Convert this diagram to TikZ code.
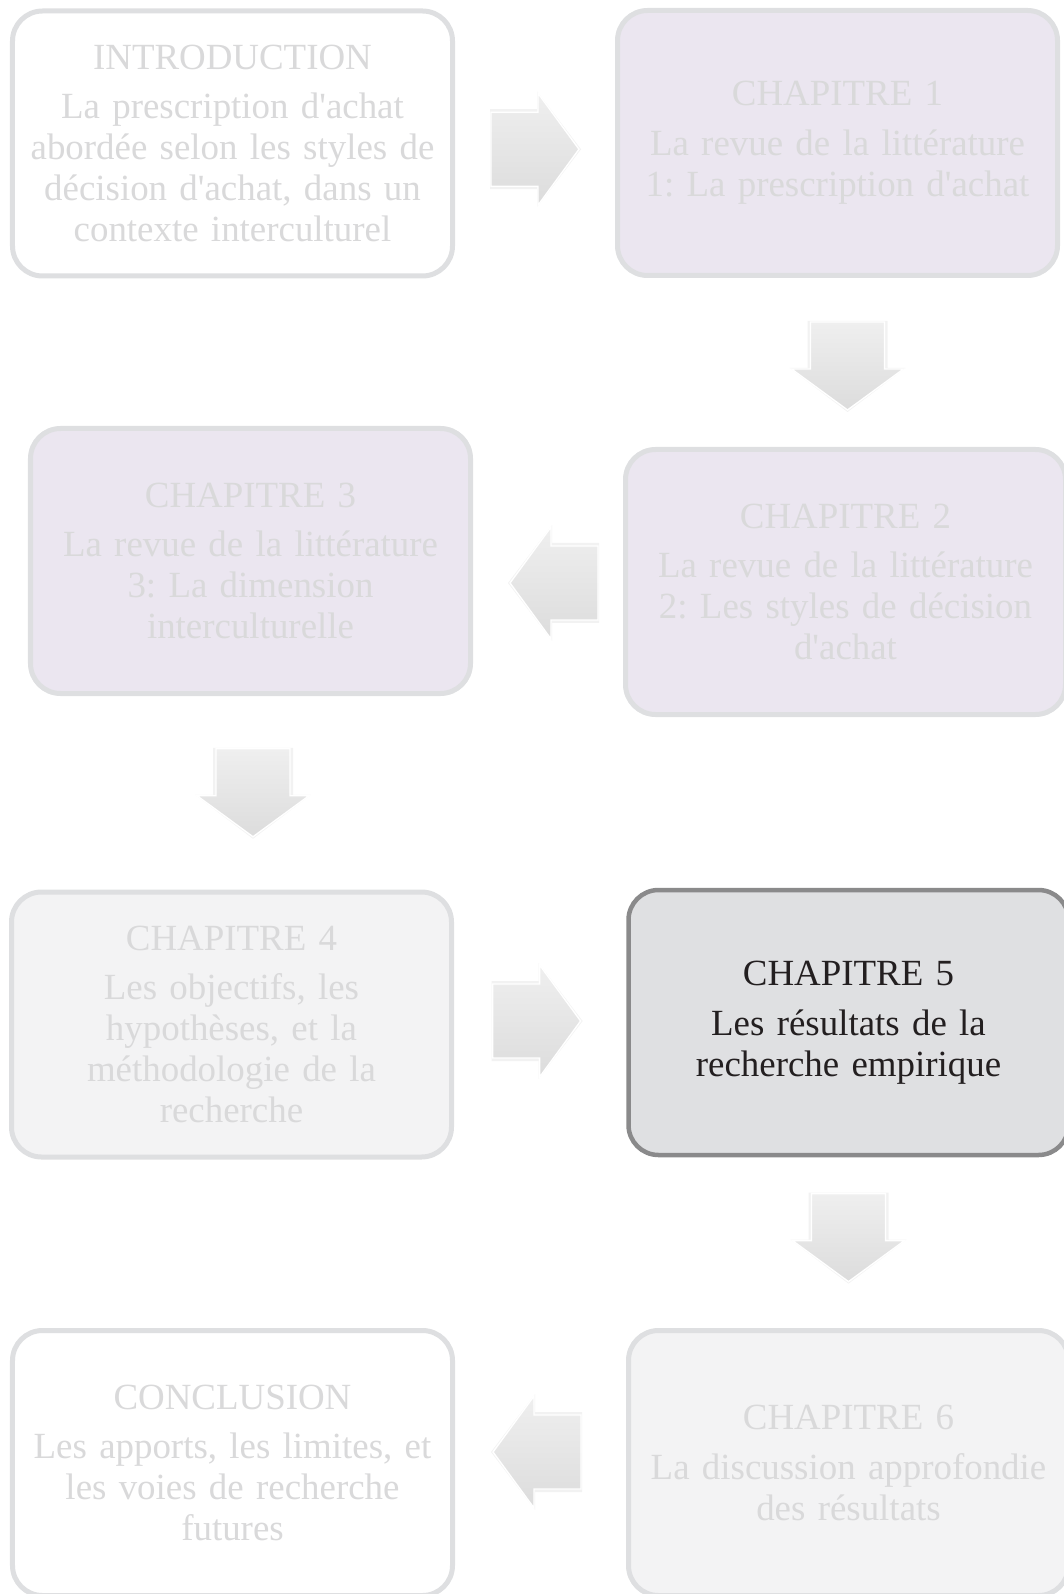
\documentclass[tikz,border=0pt]{standalone}
\usepackage{fontspec}
\setmainfont{Liberation Serif}[Ligatures=TeXOff]
\usetikzlibrary{calc,positioning}
\frenchspacing

\definecolor{edgegrey}{HTML}{DEDFE1}
\definecolor{fadedtext}{HTML}{D9D9DA}
\definecolor{lavender}{HTML}{EBE6F0}
\definecolor{palegrey}{HTML}{F3F3F4}
\definecolor{activefill}{HTML}{DFE0E2}
\definecolor{activeedge}{HTML}{8A8A8B}
\definecolor{activetext}{HTML}{231F20}
\definecolor{arrowtop}{HTML}{EFEFEF}
\definecolor{arrowbottom}{HTML}{DCDCDC}

\tikzset{
  chapbox/.style={draw=edgegrey, line width=0.1cm, rounded corners=0.6cm,
    minimum width=8.8cm, minimum height=5.3cm, text width=8.5cm, align=center,
    inner sep=0pt, text=fadedtext, font=\fontsize{21}{23.3}\selectfont},
  activebox/.style={chapbox, draw=activeedge, fill=activefill, text=activetext, line width=0.09cm},
  pics/blockarrow/.style={code={
    \fill[black, opacity=0.05] (-0.90,0.80) -- (0.04,0.80) -- (0.04,1.16) -- (0.92,0)
      -- (0.04,-1.16) -- (0.04,-0.80) -- (-0.90,-0.80) -- cycle;
    \shade[top color=arrowtop, bottom color=arrowbottom, draw=white, line width=0.8pt]
      (-0.88,0.74) -- (0.06,0.74) -- (0.06,1.12) -- (0.88,0)
      -- (0.06,-1.12) -- (0.06,-0.74) -- (-0.88,-0.74) -- cycle;
  }}
}

\begin{document}
\begin{tikzpicture}
    \useasboundingbox (0,0) rectangle (21.26,-31.88);
    {
    % Drawing chapter boxes, left column
    \node [chapbox, fill=white] (intro) at (4.650000,-2.870000)
      {INTRODUCTION\\[5pt]La prescription d'achat\\abordée selon les styles de\\décision d'achat, dans un\\contexte interculturel};%
    \node [chapbox, fill=lavender] (chapthree) at (5.010000,-11.220000)
      {CHAPITRE 3\\[5pt]La revue de la littérature\\3: La dimension\\interculturelle};%
    \node [chapbox, fill=palegrey] (chapfour) at (4.630000,-20.490000)
      {CHAPITRE 4\\[5pt]Les objectifs, les\\hypothèses, et la\\méthodologie de la\\recherche};%
    \node [chapbox, fill=white] (conclusion) at (4.650000,-29.260000)
      {CONCLUSION\\[5pt]Les apports, les limites, et\\les voies de recherche\\futures};%

    % Drawing chapter boxes, right column
    \node [chapbox, fill=lavender] (chapone) at (16.750000,-2.860000)
      {CHAPITRE 1\\[5pt]La revue de la littérature\\1: La prescription d'achat};%
    \node [chapbox, fill=lavender] (chaptwo) at (16.910000,-11.640000)
      {CHAPITRE 2\\[5pt]La revue de la littérature\\2: Les styles de décision\\d'achat};%
    \node [activebox] (chapfive) at (16.970000,-20.450000)
      {CHAPITRE 5\\[5pt]Les résultats de la\\recherche empirique};%
    \node [chapbox, fill=palegrey] (chapsix) at (16.970000,-29.260000)
      {CHAPITRE 6\\[5pt]La discussion approfondie\\des résultats};%

    % Marking the block arrows halfway between boxes
    \path (intro) -- coordinate[midway] (arrowone) (chapone);%
    \path (chapone) -- coordinate[midway] (arrowtwo) (chaptwo);%
    \path (chaptwo) -- coordinate[midway] (arrowthree) (chapthree);%
    \path (chapthree) -- coordinate[midway] (arrowfour) (chapfour);%
    \path (chapfour) -- coordinate[midway] (arrowfive) (chapfive);%
    \path (chapfive) -- coordinate[midway] (arrowsix) (chapsix);%
    \path (chapsix) -- coordinate[midway] (arrowseven) (conclusion);%

    \pic [yshift=-0.12cm] at (arrowone) {blockarrow};%
    \pic [xshift=0.12cm, yshift=-0.07cm, rotate=-90] at (arrowtwo) {blockarrow};%
    \pic [xshift=0.12cm, yshift=-0.23cm, rotate=180] at (arrowthree) {blockarrow};%
    \pic [xshift=0.24cm, rotate=-90] at (arrowfour) {blockarrow};%
    \pic [xshift=-0.07cm, yshift=0.05cm] at (arrowfive) {blockarrow};%
    \pic [yshift=0.1cm, rotate=-90] at (arrowsix) {blockarrow};%
    \pic [xshift=-0.07cm, yshift=0.22cm, rotate=180] at (arrowseven) {blockarrow};%
    }
\end{tikzpicture}
\end{document}
